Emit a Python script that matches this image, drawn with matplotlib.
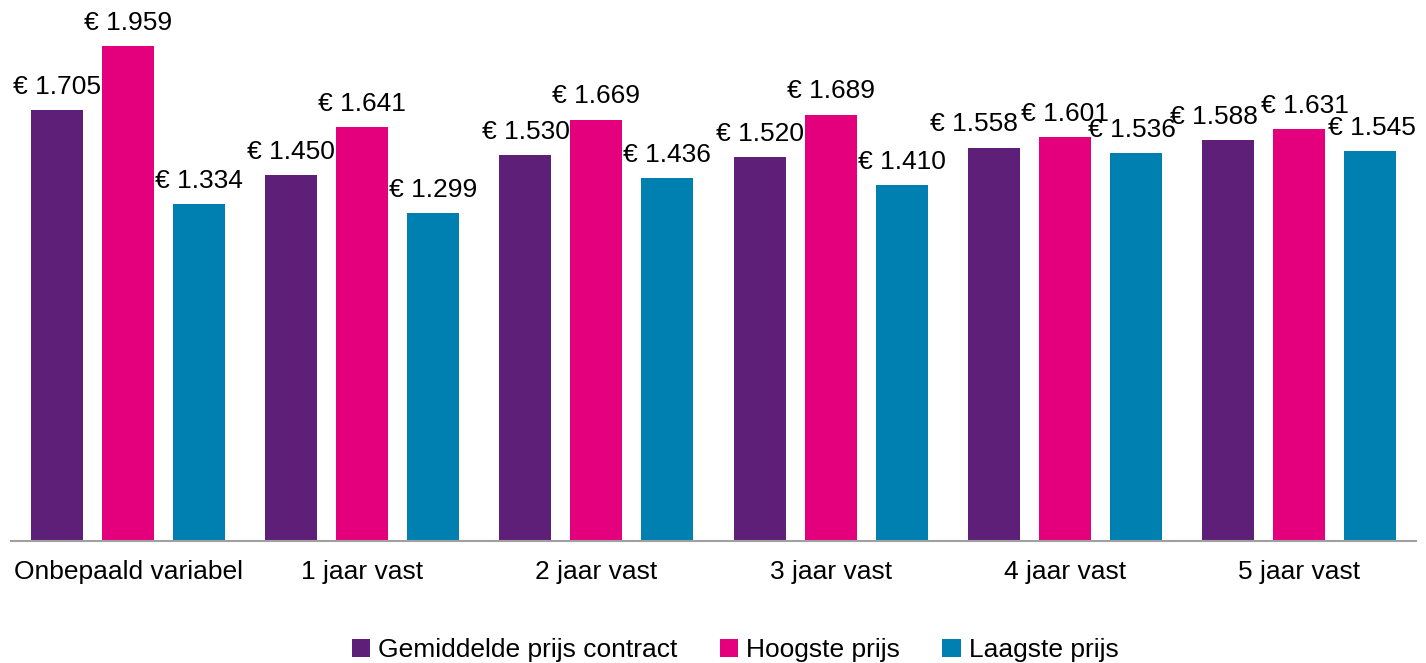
import matplotlib
matplotlib.use('Agg')
import matplotlib.pyplot as plt
import numpy as np

# Data
categories = ['Onbepaald variabel', '1 jaar vast', '2 jaar vast', '3 jaar vast', '4 jaar vast', '5 jaar vast']
series_names = ['Gemiddelde prijs contract', 'Hoogste prijs', 'Laagste prijs']
gemiddelde = [1705, 1450, 1530, 1520, 1558, 1588]
hoogste = [1959, 1641, 1669, 1689, 1601, 1631]
laagste = [1334, 1299, 1436, 1410, 1536, 1545]

colors = ['#5E1F78', '#E4007C', '#0080B0']

# small horizontal nudges (pixels) for crowded labels, (series, category) -> dx
label_nudge = {(0, 4): -20, (2, 4): -4, (0, 5): -14, (1, 5): 6, (2, 5): 2}

plt.rcParams['font.family'] = ['Liberation Sans', 'DejaVu Sans']

fig = plt.figure(figsize=(14.26, 6.63), dpi=100)
ax = fig.add_axes([11 / 1426, 122 / 663, 1405 / 1426, 505 / 663])

x = np.arange(len(categories))
width = 0.222
offset = 0.303

for i, (vals, name) in enumerate(zip([gemiddelde, hoogste, laagste], series_names)):
    pos = x + (i - 1) * offset
    bars = ax.bar(pos, vals, width=width, color=colors[i], label=name)
    for j, (rect, v) in enumerate(zip(bars, vals)):
        # Dutch thousands separator
        txt = '€ ' + f'{v:,}'.replace(',', '.')
        dx = label_nudge.get((i, j), 0) * 72 / 100
        ax.annotate(txt, (rect.get_x() + rect.get_width() / 2, v),
                    xytext=(dx, 8), textcoords='offset points',
                    ha='center', va='bottom', fontsize=19, clip_on=False)

ax.set_xlim(-0.5, len(categories) - 0.5)
ax.set_ylim(0, 2000)
ax.set_xticks(x)
ax.set_xticklabels(categories, fontsize=19)
ax.tick_params(axis='x', length=0, pad=14)
ax.set_yticks([])

for s in ['top', 'right', 'left']:
    ax.spines[s].set_visible(False)
ax.spines['bottom'].set_color('#A0A0A0')
ax.spines['bottom'].set_linewidth(1.5)

fig.legend(loc='center', bbox_to_anchor=(735 / 1426, 13 / 663), ncol=3, frameon=False,
           fontsize=19, handlelength=0.7, handleheight=0.7, handletextpad=0.3,
           columnspacing=1.6, borderaxespad=0)

fig.savefig('out.png', dpi=100)
plt.close(fig)
